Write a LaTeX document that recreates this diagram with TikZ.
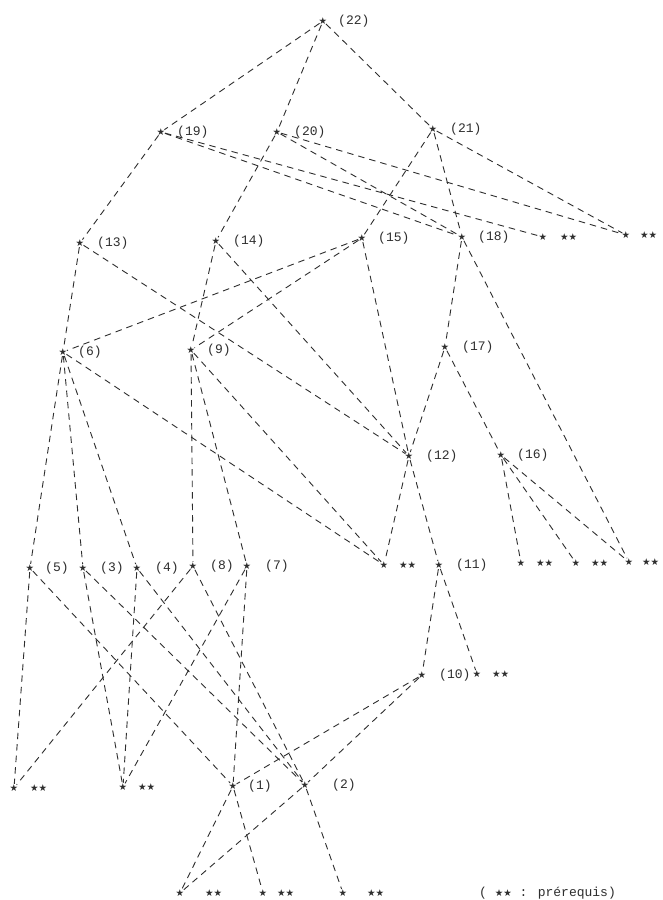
\documentclass[tikz,border=0pt]{standalone}
\usepackage{fontspec}
\newfontfamily\monofont{Liberation Mono}
\newfontfamily\starfont{DejaVu Sans}
\definecolor{ink}{HTML}{2E2E2E}
\newcommand\task[4]{\node[st] (#1) at (#2) {★}; \node[lbl] (l#1) at ([xshift=#4pt]#1.center) {#3};}
\newcommand\preq[3]{\node[st] (#1) at (#2) {★}; \node[pq] (q#1) at ([xshift=#3pt]#1.center) {★★};}
\begin{document}
\begin{tikzpicture}[x=1pt,y=-1pt,
  st/.style={circle,inner sep=0pt,minimum size=0pt,text=ink,font=\starfont\fontsize{9.5}{9.5}\selectfont},
  lbl/.style={anchor=west,inner sep=0pt,text=ink,font=\monofont\fontsize{13}{13}\selectfont},
  pq/.style={anchor=west,inner sep=0pt,text=ink,font=\starfont\fontsize{9.5}{9.5}\selectfont},
  ln/.style={draw=ink,line width=0.9pt,dash pattern=on 6.5pt off 5pt,shorten <=-1.5pt,shorten >=-1.5pt}]
\useasboundingbox (0,0) rectangle (662,900);
\fill[white] (0,0) rectangle (662,900);
% tasks
\task{n22}{323,21}{(22)}{15}
\task{n19}{161,132}{(19)}{16}
\task{n20}{277,132}{(20)}{17}
\task{n21}{433,129}{(21)}{17}
\task{n13}{80,243}{(13)}{17}
\task{n14}{216,241}{(14)}{17}
\task{n15}{362,238}{(15)}{16}
\task{n18}{462,237}{(18)}{16}
\task{n6}{63,352}{(6)}{15}
\task{n9}{191,350}{(9)}{16}
\task{n17}{445,347}{(17)}{17}
\task{n12}{409,456}{(12)}{17}
\task{n16}{501,455}{(16)}{16}
\task{n5}{30,568}{(5)}{15}
\task{n3}{83,568}{(3)}{17}
\task{n4}{137,568}{(4)}{18}
\task{n8}{193,566}{(8)}{17}
\task{n7}{247,566}{(7)}{18}
\task{n11}{439,565}{(11)}{17}
\task{n10}{422,675}{(10)}{17}
\task{n1}{233,786}{(1)}{15}
\task{n2}{305,785}{(2)}{27}
% prerequisites
\preq{p18}{543,237}{17}
\preq{p21}{626,235}{14}
\preq{p12}{384,565}{15}
\preq{p16a}{521,563}{15}
\preq{p16b}{576,563}{15}
\preq{p16c}{629,562}{13}
\preq{p10}{477,674}{15}
\preq{p5}{14,788}{16}
\preq{p3}{123,787}{15}
\preq{p1a}{180,893}{25}
\preq{p1b}{263,893}{14}
\preq{p2}{343,893}{24}
% legend
\node[lbl] (legend) at (479,893) {( {\starfont\fontsize{9.5}{9.5}\selectfont ★★} : prérequis)};
% connectors
\foreach \a/\b in {n22/n19, n22/n20, n22/n21,
  n19/n13, n19/n18, n19/p18,
  n20/n14, n20/n18, n20/p21,
  n21/n15, n21/n18, n21/p21,
  n13/n6, n13/n12,
  n14/n9, n14/n12,
  n15/n6, n15/n9, n15/n12,
  n18/n17, n18/p16c,
  n17/n12, n17/n16,
  n6/n5, n6/n3, n6/n4, n6/p12,
  n9/n8, n9/n7, n9/p12,
  n12/p12, n12/n11,
  n16/p16a, n16/p16b, n16/p16c,
  n11/n10, n11/p10,
  n10/n1, n10/n2,
  n5/p5, n5/n1,
  n3/p3, n3/n2,
  n4/p3, n4/n2,
  n8/p5, n8/n2,
  n7/p3, n7/n1,
  n1/p1a, n1/p1b,
  n2/p1a, n2/p2}
  \draw[ln] (\a) -- (\b);
\end{tikzpicture}
\end{document}
